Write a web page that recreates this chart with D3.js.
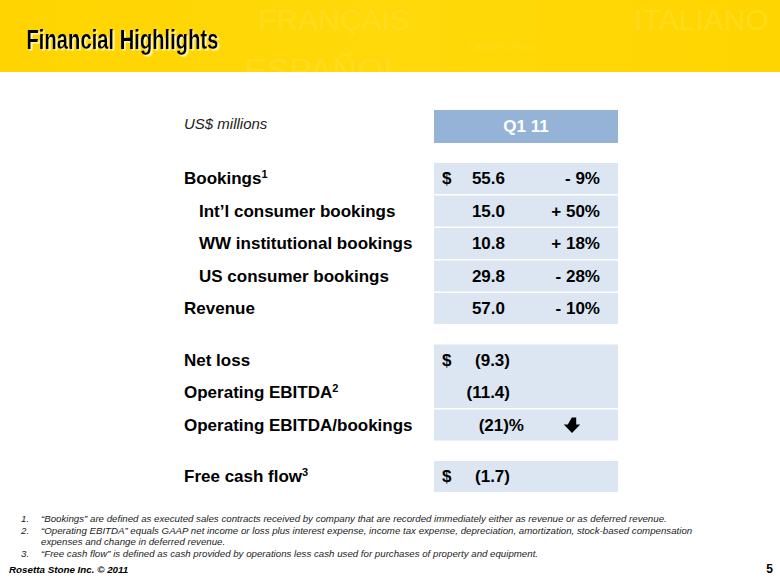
<!DOCTYPE html>
<html lang="en">
<head>
  <meta charset="UTF-8">
  <script src="https://d3js.org/d3.v7.min.js"></script>
  <style>
    body { margin: 0; background: #ffffff; font-family: Arial, "Liberation Sans", sans-serif; }
    .label { font-size: 17px; font-weight: bold; fill: #000; }
    .cell { fill: #dce6f2; }
    .foot { font-size: 9.7px; font-style: italic; fill: #222; }
  </style>
</head>
<body>
  <div id="slide"></div>
  <script>
    // table content
    const labels = ["Bookings", "Int\u2019l consumer bookings", "WW institutional bookings", "US consumer bookings", "Revenue",
                    "Net loss", "Operating EBITDA", "Operating EBITDA/bookings", "Free cash flow"];
    const supers = ["1", "", "", "", "", "", "2", "", "3"];
    const indent = [0, 1, 1, 1, 0, 0, 0, 0, 0];
    const groups = [0, 0, 0, 0, 0, 1, 1, 1, 2];
    const dollar = [true, false, false, false, false, true, false, false, true];
    const values = ["55.6", "15.0", "10.8", "29.8", "57.0", "(9.3)", "(11.4)", "(21)%", "(1.7)"];
    const changes = ["- 9%", "+ 50%", "+ 18%", "- 28%", "- 10%", "", "", "\u2193", ""];
    const period = "Q1 11";
    const footnotes = [
      ["1.", "\u201cBookings\u201d are defined as executed sales contracts received by company that are recorded immediately either as revenue or as deferred revenue."],
      ["2.", "\u201cOperating EBITDA\u201d equals GAAP net income or loss plus interest expense, income tax expense, depreciation, amortization, stock-based compensation"],
      ["", "expenses and change in deferred revenue."],
      ["3.", "\u201cFree cash flow\u201d is defined as cash provided by operations less cash used for purchases of property and equipment."]
    ];

    const width = 780, height = 585;
    const svg = d3.select("#slide").append("svg")
      .attr("width", width).attr("height", height);

    // header banner
    const defs = svg.append("defs");
    const grad = defs.append("linearGradient").attr("id", "banner").attr("x1", 0).attr("x2", 1);
    grad.append("stop").attr("offset", "0%").attr("stop-color", "#ffd400");
    grad.append("stop").attr("offset", "50%").attr("stop-color", "#ffd90a");
    grad.append("stop").attr("offset", "100%").attr("stop-color", "#ffd500");
    defs.append("clipPath").attr("id", "bannerClip")
      .append("rect").attr("width", width).attr("height", 72);
    defs.append("filter").attr("id", "shadow").attr("x", "-5%").attr("y", "-20%").attr("width", "115%").attr("height", "150%")
      .append("feDropShadow").attr("dx", 1.8).attr("dy", 1.6).attr("stdDeviation", 0.3)
      .attr("flood-color", "#fff6b0").attr("flood-opacity", 1);
    svg.append("rect").attr("width", width).attr("height", 72).attr("fill", "url(#banner)");

    // faint watermark words in the banner
    const marks = [["FRAN\u00c7AIS", 258, 30, 30], ["LINGUA LATINA", 470, 50, 9], ["ITALIANO", 634, 30, 30],
                   ["ESPA\u00d1OL", 244, 82, 34]];
    svg.append("g").attr("clip-path", "url(#bannerClip)")
      .selectAll(".wm").data(marks).enter().append("text")
      .attr("x", d => d[1]).attr("y", d => d[2])
      .attr("font-size", d => d[3]).attr("font-family", "'Liberation Sans Narrow', Arial, sans-serif")
      .attr("fill", "#ffe030").attr("opacity", 0.55)
      .text(d => d[0]);

    svg.append("text").attr("x", 26.5).attr("y", 49)
      .attr("font-family", "'Liberation Sans Narrow', Arial, sans-serif")
      .attr("font-size", 27).attr("font-weight", "bold")
      .attr("textLength", 192).attr("lengthAdjust", "spacingAndGlyphs")
      .attr("filter", "url(#shadow)")
      .attr("fill", "#000").text("Financial Highlights");

    // layout scales
    const rowH = 32.5, gap = 19;
    const y = i => 163 + i * rowH + groups[i] * gap;
    const x = d3.scaleLinear().domain([0, 1]).range([434, 618]);

    // column header
    svg.append("rect").attr("x", x(0)).attr("y", 110).attr("width", x(1) - x(0)).attr("height", 33)
      .attr("fill", "#95b3d7");
    svg.append("text").attr("x", (x(0) + x(1)) / 2).attr("y", 132).attr("text-anchor", "middle")
      .attr("class", "label").style("fill", "#fff").text(period);
    svg.append("text").attr("x", 184).attr("y", 129).attr("font-size", 15).attr("font-style", "italic")
      .attr("fill", "#222").text("US$ millions");

    const idx = d3.range(labels.length);

    // cells (white separator between rows except inside the EBITDA pair)
    svg.selectAll(".cell").data(idx).enter().append("rect")
      .attr("class", "cell")
      .attr("x", x(0)).attr("width", x(1) - x(0))
      .attr("y", i => y(i))
      .attr("height", i => (i === 5 ? rowH + 0.5 : rowH - 1.5));

    // row labels
    const lab = svg.selectAll(".label-row").data(idx).enter().append("text")
      .attr("class", "label")
      .attr("x", i => 184 + indent[i] * 15)
      .attr("y", i => y(i) + 21);
    lab.append("tspan").text(i => labels[i]);
    lab.append("tspan").attr("font-size", 11).attr("dy", -6).text(i => supers[i]);

    // dollar signs
    svg.selectAll(".dollar").data(idx.filter(i => dollar[i])).enter().append("text")
      .attr("class", "label").attr("x", 442).attr("y", i => y(i) + 21).text("$");

    // values (parentheses hang past the number column)
    svg.selectAll(".val").data(idx).enter().append("text")
      .attr("class", "label").attr("text-anchor", "end")
      .attr("x", i => values[i].startsWith("(") ? (values[i].endsWith("%") ? 524 : 510) : 505)
      .attr("y", i => y(i) + 21)
      .text(i => values[i]);

    // changes
    svg.selectAll(".chg").data(idx.filter(i => changes[i] && changes[i] !== "\u2193")).enter().append("text")
      .attr("class", "label").attr("text-anchor", "end")
      .attr("x", 600).attr("y", i => y(i) + 21).text(i => changes[i]);

    // down arrow
    idx.filter(i => changes[i] === "\u2193").forEach(i => {
      const cx = 574, top = y(i) + 8;
      svg.append("path")
        .attr("d", `M${cx - 2.2},${top} h4.4 v7 h4 l-8.2,8.5 l-8.2,-8.5 h4 z`)
        .attr("fill", "#000");
    });

    // footnotes
    const fn = svg.selectAll(".fn").data(footnotes).enter().append("g")
      .attr("transform", (d, i) => `translate(0,${[522, 533.5, 545, 557][i]})`);
    fn.append("text").attr("class", "foot").attr("x", 21).text(d => d[0]);
    fn.append("text").attr("class", "foot").attr("x", 41).text(d => d[1]);

    svg.append("text").attr("x", 9).attr("y", 573).attr("font-size", 9.8)
      .attr("font-weight", "bold").attr("font-style", "italic").text("Rosetta Stone Inc. \u00a9 2011");
    svg.append("text").attr("x", 773).attr("y", 573).attr("text-anchor", "end").attr("font-size", 12)
      .attr("font-weight", "bold").text("5");
  </script>
</body>
</html>
